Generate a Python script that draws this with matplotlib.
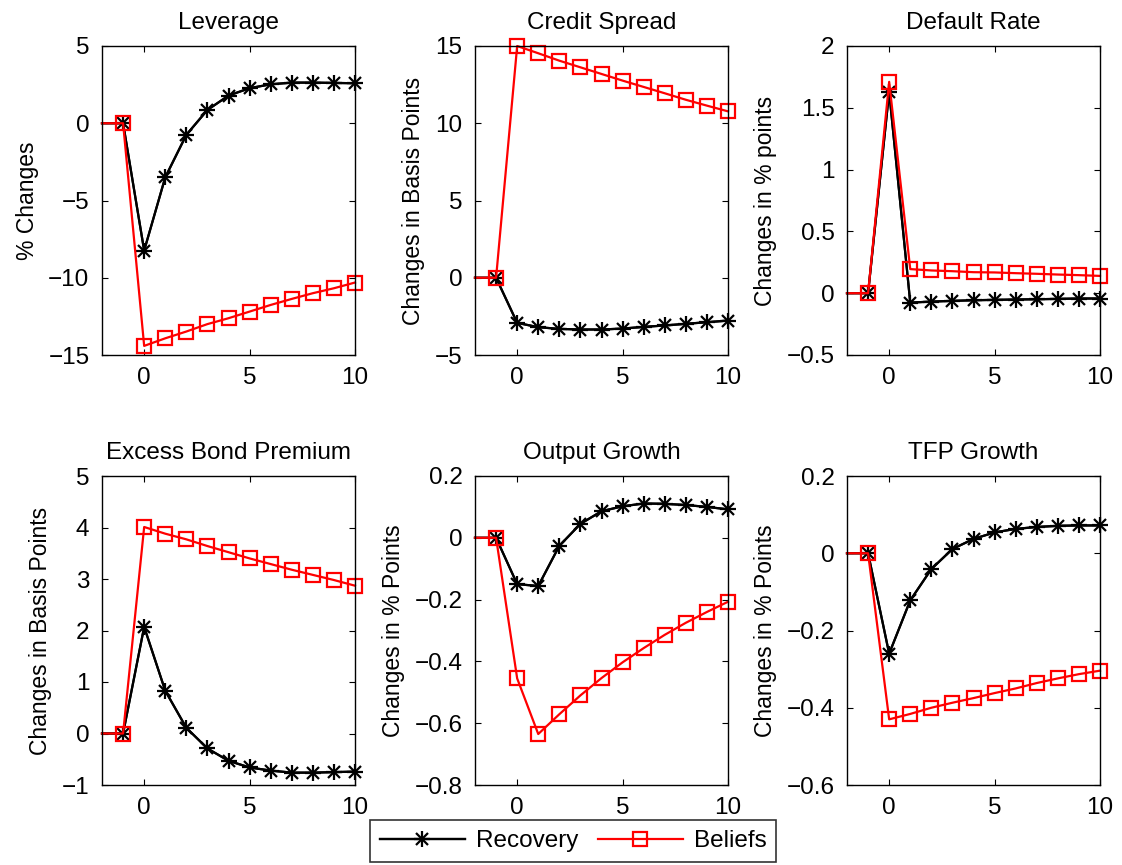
import matplotlib
matplotlib.use("Agg")
import matplotlib.pyplot as plt
from matplotlib.legend_handler import HandlerTuple
import numpy as np

plt.rcParams['font.family'] = ['Liberation Sans', 'DejaVu Sans']

periods = [-2, -1, 0, 1, 2, 3, 4, 5, 6, 7, 8, 9, 10]

titles = ["Leverage", "Credit Spread", "Default Rate",
          "Excess Bond Premium", "Output Growth", "TFP Growth"]
ylabels = ["% Changes", "Changes in Basis Points", "Changes in % points",
           "Changes in Basis Points", "Changes in % Points", "Changes in % Points"]

recovery_leverage = [0, 0, -8.24, -3.5, -0.75, 0.86, 1.79, 2.27, 2.52, 2.63, 2.63, 2.61, 2.59]
beliefs_leverage = [0, 0, -14.41, -13.92, -13.48, -13.0, -12.62, -12.19, -11.76, -11.37, -11.0, -10.68, -10.31]

recovery_spread = [0, 0, -2.92, -3.2, -3.31, -3.35, -3.35, -3.29, -3.18, -3.09, -2.98, -2.88, -2.77]
beliefs_spread = [0, 0, 15.0, 14.53, 14.05, 13.62, 13.19, 12.76, 12.35, 11.94, 11.52, 11.14, 10.77]

recovery_default = [0, 0, 1.63, -0.076, -0.068, -0.062, -0.057, -0.054, -0.051, -0.049, -0.046, -0.043, -0.043]
beliefs_default = [0, 0, 1.71, 0.195, 0.184, 0.178, 0.17, 0.168, 0.162, 0.157, 0.151, 0.146, 0.14]

recovery_ebp = [0, 0, 2.07, 0.83, 0.11, -0.29, -0.53, -0.66, -0.72, -0.76, -0.76, -0.75, -0.74]
beliefs_ebp = [0, 0, 4.01, 3.88, 3.77, 3.64, 3.52, 3.40, 3.29, 3.18, 3.08, 2.98, 2.87]

recovery_output = [0, 0, -0.15, -0.156, -0.026, 0.045, 0.086, 0.102, 0.111, 0.11, 0.106, 0.10, 0.092]
beliefs_output = [0, 0, -0.455, -0.635, -0.571, -0.51, -0.454, -0.403, -0.357, -0.314, -0.275, -0.24, -0.207]

recovery_tfp = [0, 0, -0.26, -0.122, -0.041, 0.011, 0.037, 0.054, 0.063, 0.068, 0.071, 0.072, 0.072]
beliefs_tfp = [0, 0, -0.43, -0.416, -0.40, -0.387, -0.375, -0.362, -0.35, -0.336, -0.324, -0.313, -0.304]

recovery = [recovery_leverage, recovery_spread, recovery_default,
            recovery_ebp, recovery_output, recovery_tfp]
beliefs = [beliefs_leverage, beliefs_spread, beliefs_default,
           beliefs_ebp, beliefs_output, beliefs_tfp]

ylims = [(-15, 5), (-5, 15), (-0.5, 2), (-1, 5), (-0.8, 0.2), (-0.6, 0.2)]
yticks = [[-15, -10, -5, 0, 5], [-5, 0, 5, 10, 15], [-0.5, 0, 0.5, 1, 1.5, 2],
          [-1, 0, 1, 2, 3, 4, 5], [-0.8, -0.6, -0.4, -0.2, 0, 0.2], [-0.6, -0.4, -0.2, 0, 0.2]]

W, H = 1122, 865
fig = plt.figure(figsize=(W / 100, H / 100), dpi=100)

lefts = [102, 475, 847]
tops = [46, 476]
aw, ah = 253, 309

lw = 1.6
handles = None
for i in range(6):
    r, c = divmod(i, 3)
    ax = fig.add_axes([lefts[c] / W, 1 - (tops[r] + ah) / H, aw / W, ah / H])
    me = slice(1, None)
    hp, = ax.plot(periods, recovery[i], color='black', lw=lw, marker='+', ms=11, mew=1.6,
                  markevery=me, clip_on=False)
    hx, = ax.plot(periods, recovery[i], color='black', lw=lw, marker='x', ms=8, mew=1.6,
                  markevery=me, clip_on=False)
    hb, = ax.plot(periods, beliefs[i], color='red', lw=lw, marker='s', ms=9.5,
                  mfc='none', mec='red', mew=1.6, markevery=me, clip_on=False)
    ax.set_xlim(-2, 10)
    ax.set_ylim(*ylims[i])
    ax.set_xticks([0, 5, 10])
    ax.set_yticks(yticks[i])
    ax.set_yticklabels([('%g' % v).replace('-', '\u2212') for v in yticks[i]])
    ax.tick_params(direction='in', top=True, right=True, labelsize=17.5, length=4,
                   width=0.8)
    ax.tick_params(axis='x', pad=9)
    ax.tick_params(axis='y', pad=9)
    for s in ax.spines.values():
        s.set_linewidth(1.0)
    ax.set_title(titles[i], fontsize=17.5, pad=12)
    ax.set_ylabel(ylabels[i], fontsize=16.5, labelpad=7)
    handles = (hp, hx, hb)

leg = fig.legend([(handles[0], handles[1]), handles[2]], ["Recovery", "Beliefs"],
                 handler_map={tuple: HandlerTuple(ndivide=1)}, numpoints=1,
                 loc='center', bbox_to_anchor=(573 / W, 1 - 841 / H), ncol=2,
                 fontsize=17.5, frameon=True, fancybox=False, edgecolor='black',
                 handlelength=3.5, columnspacing=0.8, handletextpad=0.45,
                 borderpad=0.4, borderaxespad=0)
leg.get_frame().set_linewidth(1.2)

fig.savefig("out.png", dpi=100)
